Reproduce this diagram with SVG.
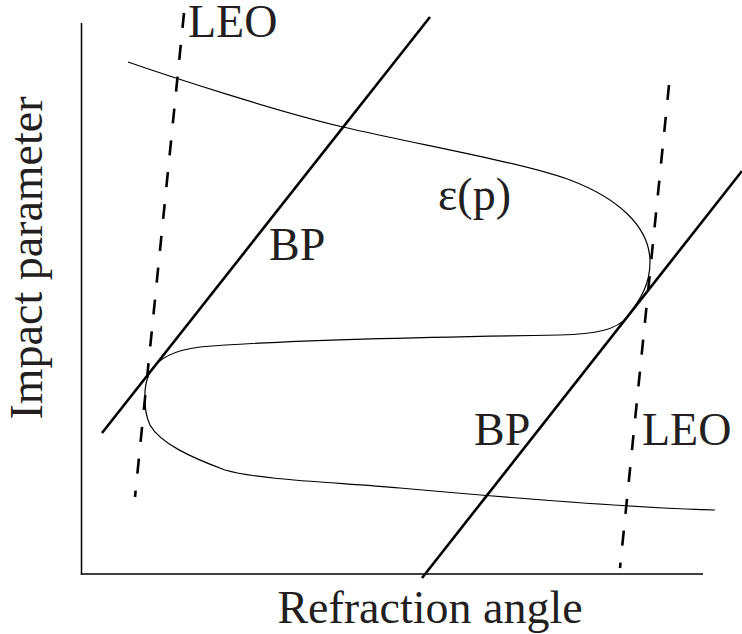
<svg xmlns="http://www.w3.org/2000/svg" width="742" height="634" viewBox="0 0 742 634">
<style>
.t{font-family:"Liberation Serif","Times New Roman",serif;font-size:46px;fill:#231f20}
.ax{stroke:#000;stroke-width:1.5;fill:none}
.bp{stroke:#000;stroke-width:2.6;fill:none}
.leo{stroke:#000;stroke-width:2.6;fill:none;stroke-dasharray:15 17}
.cv{stroke:#000;stroke-width:1.2;fill:none}
</style>
<rect width="742" height="634" fill="#fff"/>
<g id="axes">
<line class="ax" x1="81.5" y1="23" x2="81.5" y2="574.5"/>
<line class="ax" x1="80.75" y1="574" x2="703" y2="574"/>
<text class="t" x="430" y="623" text-anchor="middle" font-size="47">Refraction angle</text>
<text class="t" transform="translate(42,258) rotate(-90)" text-anchor="middle" font-size="47">Impact parameter</text>
</g>
<g id="connectors">
<line id="leo-left" class="leo" x1="184" y1="13" x2="135" y2="497"/>
<line id="leo-right" class="leo" x1="669" y1="85" x2="620" y2="568"/>
<line id="bp-left" class="bp" x1="102" y1="433" x2="430" y2="17"/>
<line id="bp-right" class="bp" x1="422" y1="578" x2="742" y2="171"/>
</g>
<g id="curve">
<path class="cv" d="M128,62 C180,80 280,112 343,127 C420,145 520,162 570,180 C615,197 650,225 650,262 C650,285 640,300 627,317 C617,330 595,334 560,335 C420,337 280,340 200,347 C175,350 158,358 150,372 C143,385 143,410 150,425 C160,443 190,457 225,470 C260,480 330,482 400,488 C500,497 640,508 715,510"/>
</g>
<g id="label-leo-top"><text class="t" x="188" y="37">LEO</text></g>
<g id="label-eps"><text class="t" x="438" y="210">ε(p)</text></g>
<g id="label-bp-top"><text class="t" x="269" y="260">BP</text></g>
<g id="label-bp-bottom"><text class="t" x="474" y="445">BP</text></g>
<g id="label-leo-bottom"><text class="t" x="642" y="445">LEO</text></g>
</svg>
